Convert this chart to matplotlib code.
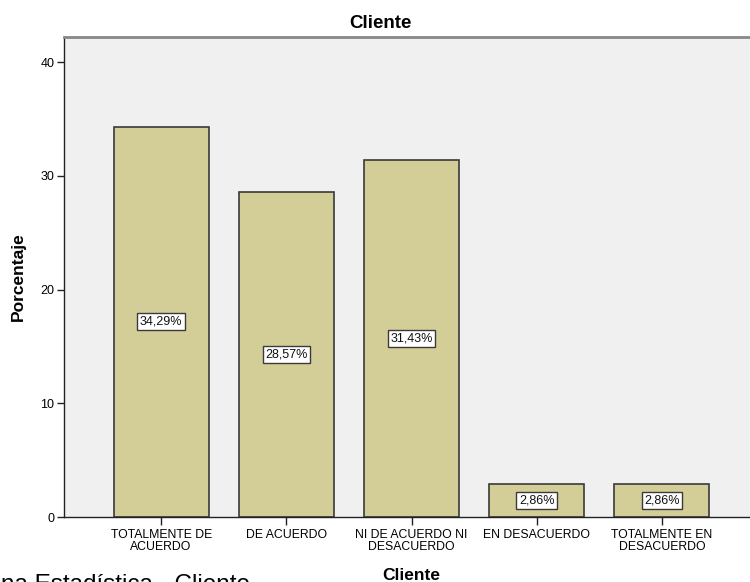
import matplotlib
matplotlib.use("Agg")
import matplotlib.pyplot as plt

categories = ["TOTALMENTE DE\nACUERDO", "DE ACUERDO", "NI DE ACUERDO NI\nDESACUERDO",
              "EN DESACUERDO", "TOTALMENTE EN\nDESACUERDO"]
percentages = [34.29, 28.57, 31.43, 2.86, 2.86]
value_labels = ["34,29%", "28,57%", "31,43%", "2,86%", "2,86%"]
yticks = [0, 10, 20, 30, 40]

plt.rcParams["font.family"] = ["Liberation Sans", "DejaVu Sans"]

W, H = 750, 582
fig = plt.figure(figsize=(W / 100, H / 100), dpi=100)
fig.patch.set_facecolor("white")

left, right, top, bottom = 64, 759, 37, 517
ax = fig.add_axes([left / W, 1 - bottom / H, (right - left) / W, (bottom - top) / H])
ax.set_facecolor("#F0F0F0")

x = list(range(len(categories)))
ax.bar(x, percentages, width=0.76, color="#D3CE98", edgecolor="#3A3A3A",
       linewidth=1.2, zorder=2)

for xi, v, lab in zip(x, percentages, value_labels):
    ax.text(xi, v / 2, lab, ha="center", va="center", fontsize=9, color="#111111",
            zorder=3,
            bbox=dict(boxstyle="square,pad=0.2", facecolor="white",
                      edgecolor="#3A3A3A", linewidth=1.0))

ax.set_xlim(-0.776, 4.776)
ax.set_ylim(0, 42.2)
ax.set_yticks(yticks)
ax.set_yticklabels([str(t) for t in yticks], fontsize=9)
ax.set_xticks(x)
ax.set_xticklabels(categories, fontsize=8.8, linespacing=0.92)
ax.tick_params(axis="y", length=5, width=1, color="#222222", pad=2)
ax.tick_params(axis="x", length=6, width=1, color="#222222", pad=3)

for side in ("left", "bottom"):
    ax.spines[side].set_color("#222222")
    ax.spines[side].set_linewidth(1)
ax.spines["top"].set_color("#888888")
ax.spines["top"].set_linewidth(2)
ax.spines["right"].set_visible(False)

fig.text(380 / W, 1 - 23 / H, "Cliente", ha="center", va="center",
         fontsize=13.5, fontweight="bold")
fig.text(411 / W, 1 - 575 / H, "Cliente", ha="center", va="center",
         fontsize=12.5, fontweight="bold")
fig.text(18 / W, 1 - 277 / H, "Porcentaje", ha="center", va="center",
         rotation=90, fontsize=12.5, fontweight="bold")
fig.text(250 / W, 1 - 591 / H, "na Estadística - Cliente", ha="right",
         va="baseline", fontsize=17.5)

fig.savefig("out.png", dpi=100)
